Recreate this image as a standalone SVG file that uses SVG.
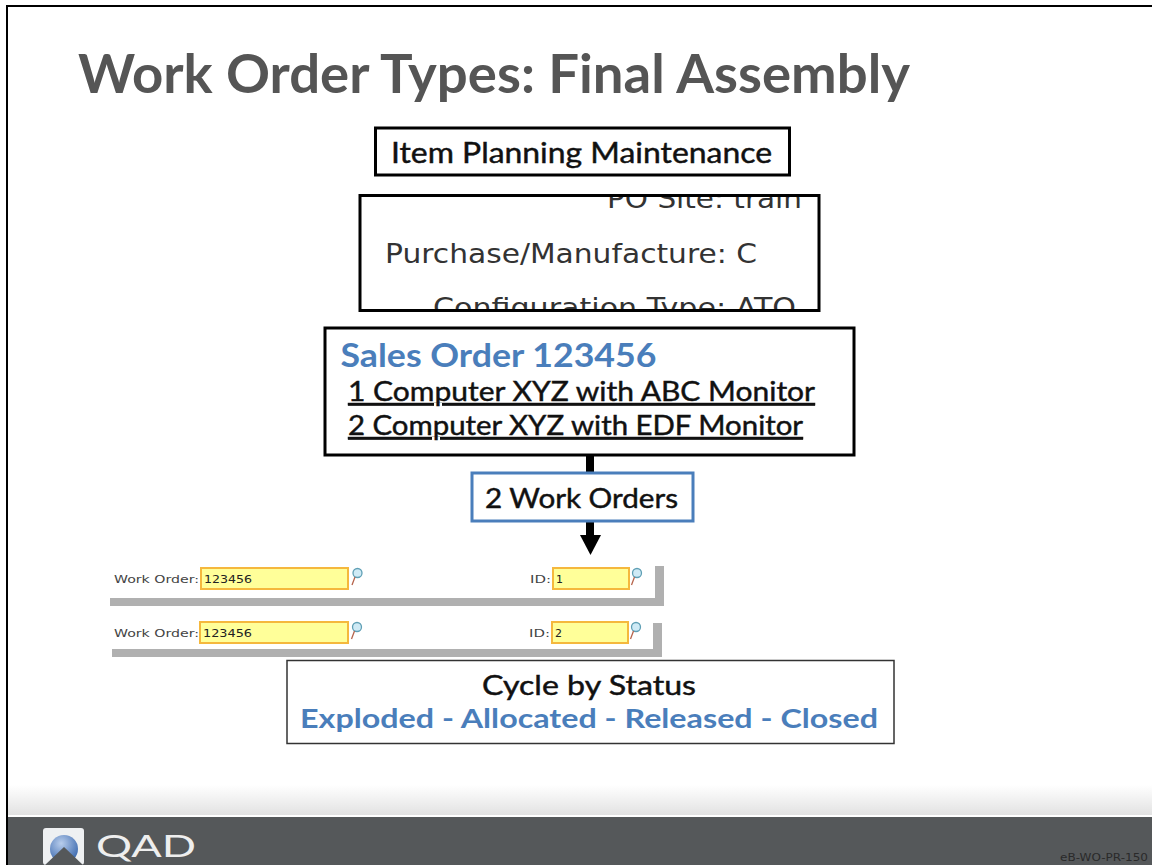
<svg xmlns="http://www.w3.org/2000/svg" width="1152" height="865" viewBox="0 0 1152 865">
<style>
.g{font-family:"Lato","Liberation Sans",sans-serif}
.d{font-family:"DejaVu Sans","Liberation Sans",sans-serif}
.m{font-weight:400;fill:#111;stroke:#111;stroke-width:.45px}
.box{fill:#fff;stroke:#000;stroke-width:3}
.field{fill:#ffff99;stroke:#f5b83d;stroke-width:2}
.lbl{font-size:11px;fill:#444}
.val{font-size:11px;fill:#222}
.bar{fill:#b0b0b0}
.blue{fill:#4a7ebb}
.u{text-decoration:underline;text-decoration-skip-ink:none}
</style>
<defs>
<linearGradient id="fade" x1="0" y1="0" x2="0" y2="1"><stop offset="0" stop-color="#fff"/><stop offset="1" stop-color="#e2e2e2"/></linearGradient>
<clipPath id="clip"><rect x="361" y="197" width="457" height="112"/></clipPath>
<radialGradient id="orb" cx=".4" cy=".3" r=".8"><stop offset="0" stop-color="#b8cdec"/><stop offset="1" stop-color="#2f5fa8"/></radialGradient>
<g id="lens"><circle cx="3" cy="-3" r="4.500" fill="#cfeaf5" stroke="#5f9fb5" stroke-width="1.300"/><path d="M.5 1-2.500 9" stroke="#b5624a" stroke-width="1.300" fill="none"/></g>
</defs>
<rect width="1152" height="865" fill="#fff"/>
<path d="M7 865V6H1152" fill="none" stroke="#000" stroke-width="2"/>
<rect x="8" y="785" width="1144" height="30" fill="url(#fade)"/>
<rect x="8" y="817" width="1144" height="48" fill="#55585a"/>
<text class="g" x="78" y="93" font-size="53" font-weight="700" fill="#555" textLength="832" lengthAdjust="spacingAndGlyphs">Work Order Types: Final Assembly</text>

<g id="item-planning">
<rect class="box" x="375.500" y="128" width="414" height="47"/>
<text class="g m" x="391" y="163" font-size="29" textLength="381" lengthAdjust="spacingAndGlyphs">Item Planning Maintenance</text>
</g>
<g id="screen-crop">
<rect class="box" x="360" y="195.500" width="459" height="115"/>
<g clip-path="url(#clip)" class="d" fill="#333" font-size="27">
<text x="607" y="208" textLength="195" lengthAdjust="spacingAndGlyphs">PO Site: train</text>
<text x="385" y="263" textLength="372" lengthAdjust="spacingAndGlyphs">Purchase/Manufacture: C</text>
<text x="433" y="317" textLength="363" lengthAdjust="spacingAndGlyphs">Configuration Type: ATO</text>
</g>
</g>
<g id="connectors">
<path d="M590 454V472M590 521V536" stroke="#000" stroke-width="8" fill="none"/>
<path d="M580 535H601L590.500 555Z" fill="#000"/>
</g>
<g id="sales-order">
<rect class="box" x="325" y="328" width="529" height="127"/>
<text class="g blue" x="340.500" y="367" font-size="33" font-weight="700" textLength="316" lengthAdjust="spacingAndGlyphs">Sales Order 123456</text>
<text class="g u m" x="348" y="401" font-size="27" textLength="467" lengthAdjust="spacingAndGlyphs">1 Computer XYZ with ABC Monitor</text>
<text class="g u m" x="348" y="435" font-size="27" textLength="455" lengthAdjust="spacingAndGlyphs">2 Computer XYZ with EDF Monitor</text>
</g>
<g id="work-orders">
<rect x="472" y="473" width="221" height="48" fill="#fff" stroke="#4a7ebb" stroke-width="3"/>
<text class="g m" x="485" y="508" font-size="27" textLength="193" lengthAdjust="spacingAndGlyphs">2 Work Orders</text>
</g>
<g id="wo-row-1">
<path class="bar" d="M655 566H664V606H110V598H655Z"/>
<text class="d lbl" x="114" y="583" textLength="85" lengthAdjust="spacingAndGlyphs">Work Order:</text>
<rect class="field" x="201" y="568" width="147" height="21"/>
<text class="d val" x="204" y="583" textLength="48" lengthAdjust="spacingAndGlyphs">123456</text>
<use href="#lens" x="354.500" y="576"/>
<text class="d lbl" x="530" y="583" textLength="21" lengthAdjust="spacingAndGlyphs">ID:</text>
<rect class="field" x="553" y="568" width="76" height="21"/>
<text class="d val" x="556" y="583">1</text>
<use href="#lens" x="634" y="576"/>
</g>
<g id="wo-row-2">
<path class="bar" d="M653 623H662V657H112V649H653Z"/>
<text class="d lbl" x="114" y="637" textLength="85" lengthAdjust="spacingAndGlyphs">Work Order:</text>
<rect class="field" x="200" y="622" width="148" height="21"/>
<text class="d val" x="203" y="637" textLength="49" lengthAdjust="spacingAndGlyphs">123456</text>
<use href="#lens" x="354" y="630"/>
<text class="d lbl" x="529" y="637" textLength="21" lengthAdjust="spacingAndGlyphs">ID:</text>
<rect class="field" x="552" y="622" width="76" height="21"/>
<text class="d val" x="555" y="637">2</text>
<use href="#lens" x="633" y="630"/>
</g>
<g id="cycle">
<rect x="287" y="660.500" width="607" height="83" fill="#fff" stroke="#333" stroke-width="1.500"/>
<text class="g m" x="482" y="695" font-size="27" textLength="214" lengthAdjust="spacingAndGlyphs">Cycle by Status</text>
<text class="g blue" x="300" y="728" font-size="27" font-weight="700" textLength="578" lengthAdjust="spacingAndGlyphs">Exploded - Allocated - Released - Closed</text>
</g>
<g id="logo">
<rect x="43" y="828" width="41" height="37" rx="3" fill="#eef0f2"/>
<circle cx="64" cy="849" r="14" fill="url(#orb)"/>
<path d="M45 865 64 847 83 865Z" fill="#55585a"/>
<text class="g" x="96" y="857" font-size="31" fill="#eee" textLength="100" lengthAdjust="spacingAndGlyphs">QAD</text>
</g>
<text class="d" x="1060" y="861" font-size="11" fill="#2a2a2a" textLength="88" lengthAdjust="spacingAndGlyphs">eB-WO-PR-150</text>
</svg>
